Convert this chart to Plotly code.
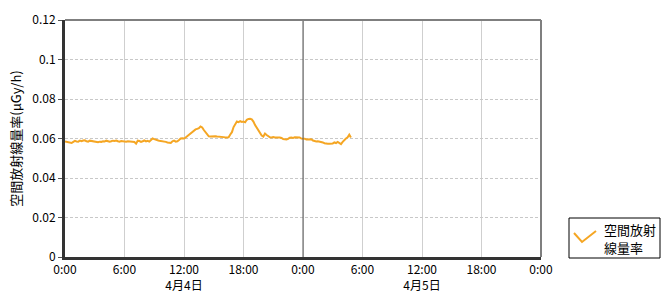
import plotly.graph_objects as go

# 10-minute readings, starting 4/4 0:00 (hours since start)
dose_rate = [
    0.0585, 0.0583, 0.0580, 0.0578, 0.0577, 0.0583,
    0.0588, 0.0585, 0.0584, 0.0589, 0.0586, 0.0590,
    0.0591, 0.0586, 0.0584, 0.0589, 0.0587, 0.0585,
    0.0585, 0.0580, 0.0581, 0.0584, 0.0583, 0.0586,
    0.0585, 0.0589, 0.0587, 0.0584, 0.0586, 0.0589,
    0.0588, 0.0590, 0.0586, 0.0584, 0.0587, 0.0585,
    0.0585, 0.0584, 0.0586, 0.0585, 0.0583, 0.0585,
    0.0582, 0.0574, 0.0589, 0.0587, 0.0583, 0.0586,
    0.0590, 0.0585, 0.0588, 0.0584, 0.0594, 0.0600,
    0.0597, 0.0592, 0.0591, 0.0589, 0.0588, 0.0586,
    0.0585, 0.0583, 0.0580, 0.0578, 0.0577, 0.0586,
    0.0589, 0.0584, 0.0586, 0.0592, 0.0600, 0.0601,
    0.0600, 0.0605, 0.0612, 0.0618, 0.0625, 0.0633,
    0.0641, 0.0646, 0.0649, 0.0652, 0.0661, 0.0656,
    0.0643, 0.0630, 0.0617, 0.0611, 0.0610, 0.0611,
    0.0610, 0.0611, 0.0610, 0.0610, 0.0609, 0.0610,
    0.0607, 0.0605, 0.0604, 0.0606, 0.0620, 0.0632,
    0.0658, 0.0675, 0.0686, 0.0683, 0.0688, 0.0684,
    0.0686, 0.0682, 0.0695, 0.0699, 0.0700, 0.0697,
    0.0686, 0.0668, 0.0655, 0.0642, 0.0630, 0.0615,
    0.0610, 0.0625, 0.0618, 0.0612, 0.0606, 0.0605,
    0.0607, 0.0605, 0.0606, 0.0604, 0.0605, 0.0603,
    0.0597, 0.0596, 0.0595, 0.0598, 0.0604, 0.0605,
    0.0603, 0.0606, 0.0605, 0.0603, 0.0605, 0.0600,
    0.0601, 0.0599, 0.0595, 0.0596, 0.0594, 0.0596,
    0.0590, 0.0587, 0.0585, 0.0586, 0.0584, 0.0585,
    0.0580, 0.0576, 0.0574, 0.0573, 0.0574, 0.0573,
    0.0575, 0.0580, 0.0577, 0.0583, 0.0575, 0.0572,
    0.0583, 0.0593, 0.0600, 0.0606, 0.0619, 0.0605,
]
hours = [i / 6 for i in range(len(dose_rate))]

x_tick_vals = [0, 6, 12, 18, 24, 30, 36, 42, 48]
x_tick_text = ["0:00", "6:00", "12:00<br>4月4日", "18:00", "0:00",
               "6:00", "12:00<br>4月5日", "18:00", "0:00"]
y_tick_vals = [0, 0.02, 0.04, 0.06, 0.08, 0.1, 0.12]
y_tick_text = ["0", "0.02", "0.04", "0.06", "0.08", "0.1", "0.12"]
day_boundary = [24]
series_name_lines = ["空間放射", "線量率"]
y_title = "空間放射線量率(μGy/h)"

LINE_COLOR = "#F5A623"
FONT = "Noto Sans CJK JP"

fig = go.Figure()
fig.add_trace(go.Scatter(
    x=hours, y=dose_rate, mode="lines",
    line=dict(color=LINE_COLOR, width=2),
    showlegend=False, hoverinfo="skip",
))

fig.update_layout(
    width=670, height=300,
    margin=dict(l=65, r=129, t=20, b=43, autoexpand=False),
    paper_bgcolor="white", plot_bgcolor="white",
    font=dict(family=FONT, size=12, color="#000"),
    xaxis=dict(
        range=[0, 48], tickvals=x_tick_vals, ticktext=x_tick_text,
        showgrid=True, gridcolor="#cfcfcf", gridwidth=1,
        showline=True, linecolor="#333", linewidth=3,
        ticks="", zeroline=False, automargin=False,
        tickfont=dict(size=12, family=FONT),
    ),
    yaxis=dict(
        range=[0, 0.12], tickvals=y_tick_vals, ticktext=y_tick_text,
        showgrid=True, gridcolor="#c8c8c8", gridwidth=1, griddash="3px,2px",
        showline=True, linecolor="#333", linewidth=3,
        ticks="outside", ticklen=4, tickcolor="#555",
        zeroline=False, automargin=False,
        tickfont=dict(size=12, family=FONT),
        title=dict(text=y_title, font=dict(size=13, family=FONT), standoff=8),
    ),
)

for d in day_boundary:
    fig.add_shape(type="line", xref="x", yref="paper", x0=d, x1=d, y0=0, y1=1,
                  line=dict(color="#555", width=1))

# top and right frame
fig.add_shape(type="line", xref="paper", yref="paper", x0=0, x1=1, y0=1, y1=1,
              line=dict(color="#7f7f7f", width=2))
fig.add_shape(type="line", xref="paper", yref="paper", x0=1, x1=1, y0=0, y1=1,
              line=dict(color="#7f7f7f", width=2))

# custom legend box (pixel positions converted to paper coords)
pw, ph = 670 - 65 - 129, 300 - 20 - 43
def px(x):
    return (x - 65) / pw
def py(y):
    return (257 - y) / ph

fig.add_shape(type="rect", xref="paper", yref="paper",
              x0=px(569), x1=px(660), y0=py(258), y1=py(218),
              line=dict(color="#000", width=1), fillcolor="white")
fig.add_shape(type="path", xref="paper", yref="paper",
              path=f"M {px(574)} {py(233)} L {px(582)} {py(242)} L {px(596)} {py(231)}",
              line=dict(color=LINE_COLOR, width=2))
for i, line_text in enumerate(series_name_lines):
    fig.add_annotation(xref="paper", yref="paper", x=px(603), y=py(229 + 18 * i),
                       xanchor="left", yanchor="middle", showarrow=False,
                       text=line_text, align="left", borderpad=0,
                       font=dict(size=13, family=FONT, color="#000"))

fig.write_html("out.html")
